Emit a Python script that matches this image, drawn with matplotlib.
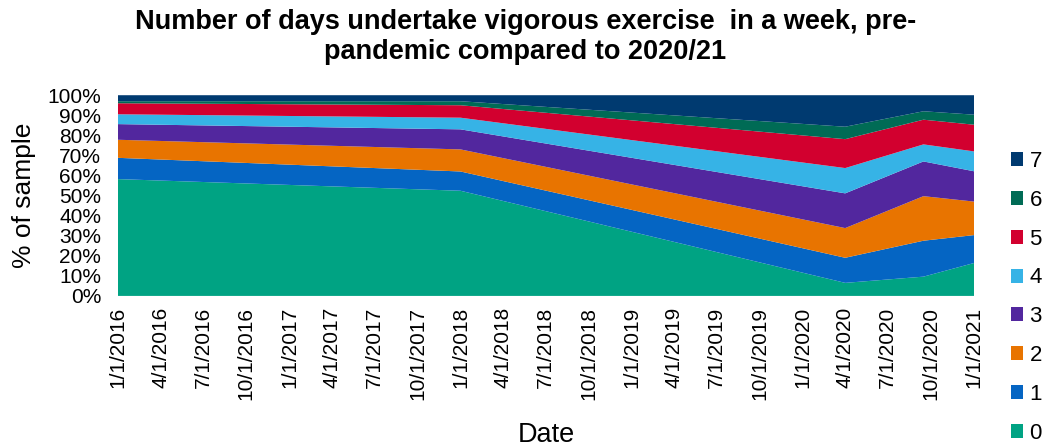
import matplotlib
matplotlib.use("Agg")
import matplotlib.pyplot as plt
import matplotlib.dates as mdates
from matplotlib.patches import Patch
from matplotlib.ticker import FuncFormatter
import numpy as np
import datetime as dt

plt.rcParams['font.family'] = ['Liberation Sans', 'DejaVu Sans']

dates = [dt.date(2016, 1, 1), dt.date(2018, 1, 1), dt.date(2020, 4, 1),
         dt.date(2020, 9, 15), dt.date(2021, 1, 1)]
days = ['0', '1', '2', '3', '4', '5', '6', '7']
d0 = [58.2, 52.4, 6.5, 9.6, 16.4]
d1 = [10.6, 9.6, 12.5, 17.9, 13.9]
d2 = [9.0, 11.0, 14.8, 22.2, 16.7]
d3 = [7.8, 10.0, 17.3, 17.3, 15.1]
d4 = [4.9, 5.8, 12.6, 8.5, 9.9]
d5 = [5.5, 6.2, 14.4, 12.3, 13.3]
d6 = [1.0, 2.0, 6.2, 4.2, 5.0]
d7 = [3.0, 3.0, 15.7, 8.0, 9.7]
series = [d0, d1, d2, d3, d4, d5, d6, d7]
colors = ['#00A383', '#0565C3', '#E87400', '#52279E', '#36B3E6', '#D2002F', '#006B55', '#003A70']

fig = plt.figure(figsize=(10.44, 4.47), dpi=100)
ax = fig.add_axes([0.113, 0.338, 0.82, 0.449])

x = mdates.date2num(dates)
ax.stackplot(x, np.array(series) / 100.0, colors=colors, linewidth=0)

ax.set_xlim(mdates.date2num(dt.date(2016, 1, 1)), mdates.date2num(dt.date(2021, 1, 1)))
ax.set_ylim(0, 1)
ax.set_yticks(np.arange(0, 1.01, 0.1))
ax.yaxis.set_major_formatter(FuncFormatter(lambda v, p: f"{v*100:.0f}%"))
ax.xaxis.set_major_locator(mdates.MonthLocator(bymonth=[1, 4, 7, 10]))
ax.xaxis.set_major_formatter(FuncFormatter(
    lambda v, p: "{d.month}/{d.day}/{d.year}".format(d=mdates.num2date(v))))
for lab in ax.get_xticklabels():
    lab.set_rotation(90)
ax.tick_params(axis='x', labelsize=15, length=0, pad=8)
ax.tick_params(axis='y', labelsize=15, length=0, pad=12)
for s in ax.spines.values():
    s.set_visible(False)

ax.set_xlabel("Date", fontsize=19.5, labelpad=16)
ax.set_ylabel("% of sample", fontsize=19, labelpad=8)

fig.suptitle("Number of days undertake vigorous exercise  in a week, pre-\npandemic compared to 2020/21",
             fontsize=19.5, fontweight='bold', x=0.503, y=0.98, linespacing=1.2)

handles = [Patch(facecolor=c) for c in colors]
fig.legend(handles[::-1], days[::-1], loc='upper left', bbox_to_anchor=(0.968, 0.662),
           frameon=False, fontsize=16, handlelength=0.55, handleheight=0.6,
           handletextpad=0.3, labelspacing=0.80, borderpad=0, borderaxespad=0)

fig.savefig("out.png", dpi=100)
